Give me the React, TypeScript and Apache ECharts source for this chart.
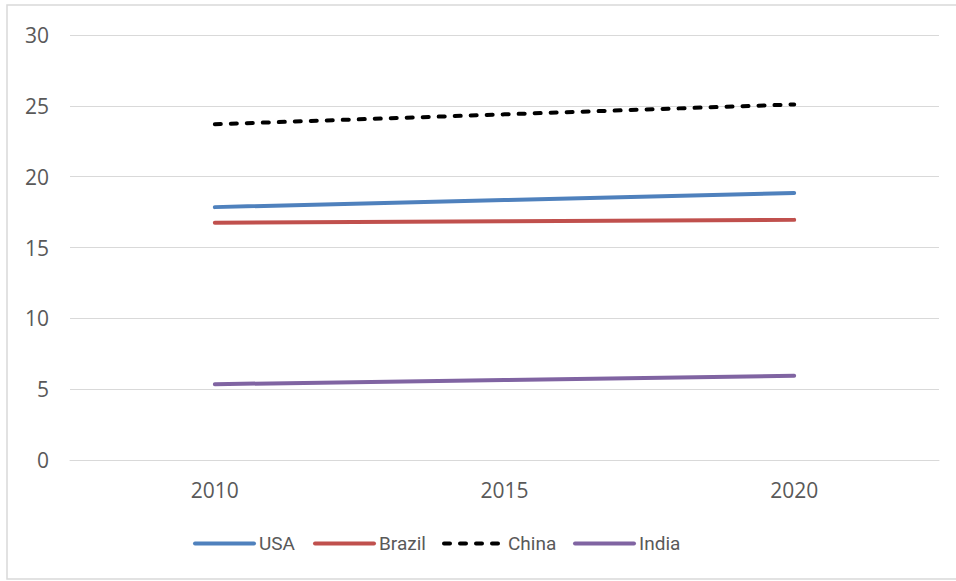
import React, { useEffect, useRef } from "react";
import * as echarts from "echarts";

const categories = ["2010", "2015", "2020"];
const seriesNames = ["USA", "Brazil", "China", "India"];
const usa = [17.85, 18.35, 18.85];
const brazil = [16.75, 16.85, 16.95];
const china = [23.7, 24.4, 25.1];
const india = [5.35, 5.65, 5.95];
const yTicks = { min: 0, max: 30, interval: 5 };

const FONT = "'Open Sans', 'Noto Sans', sans-serif";
const LFONT = "'Roboto', sans-serif";
const TEXT = "#595959";
const GRIDC = "#d9d9d9";
const legendLefts = [193, 313, 442, 573];

export default function App() {
  const ref = useRef<HTMLDivElement>(null);
  useEffect(() => {
    if (!ref.current) return;
    const chart = echarts.init(ref.current, undefined, { renderer: "svg" });
    const mk = (name: string, data: number[], color: string, dashed = false) => ({
      name,
      type: "line",
      data,
      symbol: "none",
      showSymbol: false,
      lineStyle: dashed
        ? { color, width: 4, type: [6, 10], cap: "round" }
        : { color, width: 4, cap: "round" },
      itemStyle: { color },
    });
    chart.setOption({
      animation: false,
      backgroundColor: "#ffffff",
      textStyle: { fontFamily: FONT },
      graphic: [
        {
          type: "rect",
          shape: { x: 7, y: 5, width: 960, height: 574 },
          style: { fill: "none", stroke: GRIDC, lineWidth: 1.5 },
          silent: true,
        },
      ],
      grid: { left: 70, right: 17, top: 35, bottom: 121, containLabel: false },
      xAxis: {
        type: "category",
        data: categories,
        boundaryGap: true,
        axisLine: { show: true, lineStyle: { color: GRIDC, width: 1 } },
        axisTick: { show: false },
        axisLabel: { color: TEXT, fontSize: 21, fontFamily: FONT, margin: 19 },
      },
      yAxis: {
        type: "value",
        min: yTicks.min,
        max: yTicks.max,
        interval: yTicks.interval,
        axisLine: { show: false },
        axisTick: { show: false },
        splitLine: { lineStyle: { color: GRIDC, width: 1 } },
        axisLabel: { color: TEXT, fontSize: 21, fontFamily: FONT, margin: 21 },
      },
      legend: seriesNames.map((n, i) => ({
        top: 534,
        left: legendLefts[i],
        padding: 0,
        itemWidth: 59,
        itemHeight: 24,
        itemGap: 24,
        itemStyle: { opacity: 0 },
        lineStyle: { width: 4, cap: "round" },
        textStyle: { color: TEXT, fontSize: 19, fontFamily: LFONT },
        data: [n],
      })),
      series: [
        mk(seriesNames[0], usa, "#4f81bd"),
        mk(seriesNames[1], brazil, "#c0504d"),
        mk(seriesNames[2], china, "#000000", true),
        mk(seriesNames[3], india, "#8064a2"),
      ],
    });
    return () => chart.dispose();
  }, []);
  return (
    <div
      ref={ref}
      style={{ position: "absolute", left: 0, top: 0, width: 956, height: 581 }}
    />
  );
}
